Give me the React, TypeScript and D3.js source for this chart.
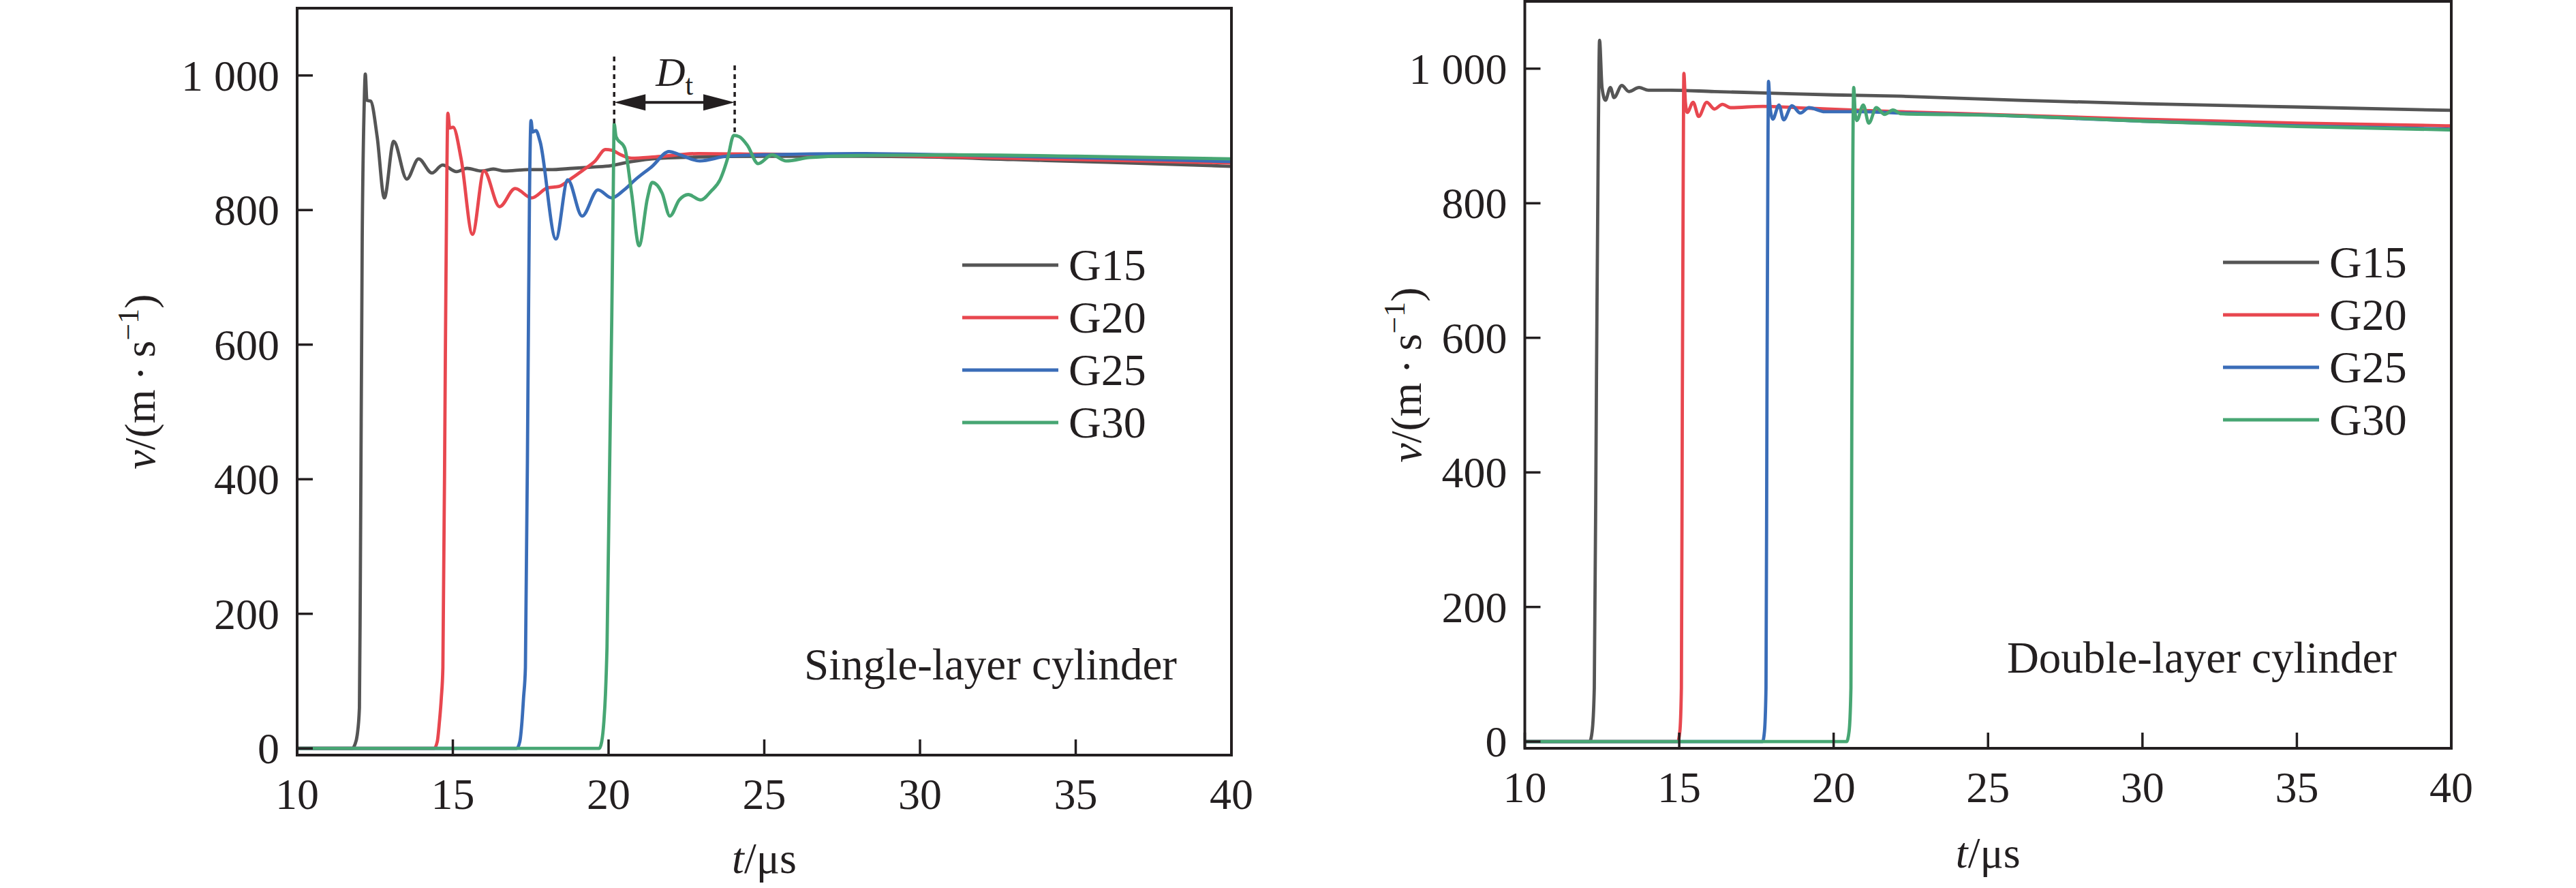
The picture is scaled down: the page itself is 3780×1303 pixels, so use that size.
import * as d3 from "d3";

const WIDTH = 3780;
const HEIGHT = 1303;

const xTicks = [10, 15, 20, 25, 30, 35, 40];
const yTicks = [0, 200, 400, 600, 800, 1000];
const yTickLabels = ["0", "200", "400", "600", "800", "1 000"];
const seriesNames = ["G15", "G20", "G25", "G30"];
const seriesColors = ["#555555", "#e8474f", "#3a6db8", "#47a673"];

type Pt = [number, number];

// single-layer cylinder, t (µs) vs v (m/s)
const singleG15: Pt[] = [
  [10, 0], [11.78, 0], [11.85, 5], [11.93, 20], [12.0, 60], [12.03, 250], [12.09, 757], [12.15, 950],
  [12.19, 1002], [12.24, 963], [12.36, 962], [12.57, 909], [12.8, 818], [13.1, 902], [13.52, 846],
  [13.9, 876], [14.33, 855], [14.67, 867], [15.12, 857], [15.45, 862], [15.93, 858], [16.3, 861],
  [16.66, 858], [17.4, 860], [18.1, 860], [18.85, 862], [19.5, 864], [20.08, 866], [20.5, 870],
  [21.4, 876], [22.3, 878], [25, 880], [28, 880], [30, 879], [33, 875], [36, 871], [40, 865],
];
const singleG20: Pt[] = [
  [10, 0], [14.4, 0], [14.5, 10], [14.57, 40], [14.63, 75], [14.68, 120], [14.76, 585], [14.8, 815],
  [14.84, 944], [14.9, 922], [15.01, 923], [15.27, 875], [15.63, 764], [16.0, 858], [16.5, 805],
  [17.0, 832], [17.53, 818], [18.04, 833], [18.4, 835], [18.84, 848], [19.2, 860], [19.57, 873],
  [19.9, 890], [20.1, 889], [20.4, 882], [20.74, 877], [21.5, 879], [22.9, 884], [25, 883],
  [28, 882], [31, 879], [35, 875], [40, 870],
];
const singleG25: Pt[] = [
  [10, 0], [17.05, 0], [17.15, 10], [17.22, 40], [17.27, 75], [17.33, 120], [17.42, 585], [17.46, 815],
  [17.51, 933], [17.56, 916], [17.67, 918], [17.8, 902], [18.31, 757], [18.69, 845], [19.15, 791],
  [19.66, 830], [20.1, 818], [20.5, 830], [20.88, 846], [21.4, 865], [21.94, 887], [22.3, 882],
  [22.93, 873], [23.8, 880], [25, 882], [28, 884], [31, 882], [35, 878], [40, 872],
];
const singleG30: Pt[] = [
  [10, 0], [19.7, 0], [19.78, 10], [19.85, 40], [19.9, 80], [19.95, 150], [20.12, 706], [20.15, 825],
  [20.18, 928], [20.24, 909], [20.52, 892], [20.74, 825], [20.98, 747], [21.25, 818], [21.4, 841],
  [21.72, 825], [21.97, 791], [22.27, 815], [22.56, 823], [22.96, 815], [23.29, 828], [23.58, 845],
  [23.83, 878], [24.02, 911], [24.2, 909], [24.46, 896], [24.8, 869], [25.25, 882], [25.7, 873],
  [26.45, 878], [28, 881], [31, 882], [35, 880], [40, 876],
];

// double-layer cylinder
const doubleG15: Pt[] = [
  [10, 0], [12.1, 0], [12.18, 15], [12.25, 80], [12.32, 535], [12.38, 900], [12.42, 1042], [12.5, 972],
  [12.61, 953], [12.77, 972], [12.89, 957], [13.14, 975], [13.37, 966], [13.7, 972], [14.0, 968],
  [14.72, 968], [16.14, 966], [17.71, 964], [20, 961], [22.19, 959], [26, 953], [30, 948], [35, 943],
  [40, 938],
];
const doubleG20: Pt[] = [
  [10, 0], [14.95, 0], [15.02, 15], [15.07, 80], [15.1, 500], [15.13, 850], [15.15, 993], [15.2, 950],
  [15.26, 935], [15.45, 950], [15.63, 929], [15.89, 950], [16.14, 940], [16.4, 947], [16.66, 942],
  [17.71, 944], [19.29, 941], [20.86, 938], [22.19, 936], [25, 932], [30, 925], [35, 919], [40, 915],
];
const doubleG25: Pt[] = [
  [10, 0], [17.7, 0], [17.76, 15], [17.81, 80], [17.84, 500], [17.87, 850], [17.89, 981], [17.94, 944],
  [18.03, 925], [18.23, 946], [18.38, 924], [18.65, 945], [18.92, 934], [19.2, 942], [19.71, 936],
  [20.86, 936], [22.19, 934], [25, 931], [30, 922], [35, 915], [40, 910],
];
const doubleG30: Pt[] = [
  [10, 0], [20.42, 0], [20.5, 15], [20.56, 80], [20.59, 500], [20.62, 850], [20.65, 972], [20.7, 932],
  [20.75, 923], [20.96, 946], [21.14, 919], [21.38, 942], [21.65, 932], [21.92, 938.5], [22.19, 933],
  [25, 931], [30, 922], [35, 914], [40, 909],
];

// D_t annotation on the single-layer panel: [t, top v, bottom v]
const dtStart = [20.18, 1028, 928];
const dtEnd = [24.05, 1015, 911];
const dtArrowV = 960;
const dtLabelV = 985;

const INK = "#231f20";
const FONT = "'Liberation Serif', 'Times New Roman', serif";

type PanelProps = {
  series: Pt[][];
  caption: string;
  left: number;
  right: number;
  top: number;
  bottom: number;
  yLabelX: number;
  xLabelY: number;
  legendX: number;
  legendY: number;
  annotate?: boolean;
};

function Panel(p: PanelProps) {
  const x = d3.scaleLinear().domain([10, 40]).range([p.left, p.right]);
  const y = d3.scaleLinear().domain([-10, 1100]).range([p.bottom, p.top]);
  const line = d3
    .line<Pt>()
    .x((d) => x(d[0]))
    .y((d) => y(d[1]))
    .curve(d3.curveMonotoneX);
  const midY = (p.top + p.bottom) / 2;
  const midX = (p.left + p.right) / 2;
  const tick = 23;

  return (
    <g fontFamily={FONT} fill={INK}>
      {p.series.map((s, i) => (
        <path key={i} d={line(s) ?? ""} fill="none" stroke={seriesColors[i]} strokeWidth={4.8} strokeLinejoin="round" />
      ))}

      <rect x={p.left} y={p.top} width={p.right - p.left} height={p.bottom - p.top} fill="none" stroke={INK} strokeWidth={4} />

      {yTicks.map((v, i) => (
        <g key={v}>
          <line x1={p.left} x2={p.left + tick} y1={y(v)} y2={y(v)} stroke={INK} strokeWidth={3.5} />
          <text x={p.left - 26} y={y(v) + 22} fontSize={64} textAnchor="end">
            {yTickLabels[i]}
          </text>
        </g>
      ))}
      {xTicks.map((t) => (
        <g key={t}>
          <line x1={x(t)} x2={x(t)} y1={p.bottom} y2={p.bottom - tick} stroke={INK} strokeWidth={3.5} />
          <text x={x(t)} y={p.bottom + 79} fontSize={64} textAnchor="middle">
            {t}
          </text>
        </g>
      ))}

      <text transform={`translate(${p.yLabelX},${midY}) rotate(-90)`} fontSize={64} textAnchor="middle">
        <tspan fontStyle="italic">v</tspan>
        <tspan>{"/(m\u2009·\u2009s"}</tspan>
        <tspan dy={-24} fontSize={44}>
          {"\u22121"}
        </tspan>
        <tspan dy={24}>)</tspan>
      </text>
      <text x={midX} y={p.xLabelY} fontSize={64} textAnchor="middle">
        <tspan fontStyle="italic">t</tspan>
        <tspan>/μs</tspan>
      </text>

      {seriesNames.map((name, i) => {
        const ly = p.legendY + i * 77;
        return (
          <g key={name}>
            <line x1={p.legendX} x2={p.legendX + 141} y1={ly} y2={ly} stroke={seriesColors[i]} strokeWidth={4.8} />
            <text x={p.legendX + 156} y={ly + 22} fontSize={66}>
              {name}
            </text>
          </g>
        );
      })}

      <text x={p.right - 80} y={p.top + 985} fontSize={65} textAnchor="end">
        {p.caption}
      </text>

      {p.annotate && (
        <g>
          {[dtStart, dtEnd].map((d, i) => (
            <line key={i} x1={x(d[0])} x2={x(d[0])} y1={y(d[1])} y2={y(d[2])} stroke={INK} strokeWidth={3.5} strokeDasharray="7 6" />
          ))}
          <line x1={x(dtStart[0]) + 30} x2={x(dtEnd[0]) - 30} y1={y(dtArrowV)} y2={y(dtArrowV)} stroke={INK} strokeWidth={4} />
          <path
            d={`M${x(dtStart[0])},${y(dtArrowV)} L${x(dtStart[0]) + 46},${y(dtArrowV) - 12} L${x(dtStart[0]) + 46},${y(dtArrowV) + 12} Z`}
            fill={INK}
          />
          <path
            d={`M${x(dtEnd[0])},${y(dtArrowV)} L${x(dtEnd[0]) - 46},${y(dtArrowV) - 12} L${x(dtEnd[0]) - 46},${y(dtArrowV) + 12} Z`}
            fill={INK}
          />
          <text x={(x(dtStart[0]) + x(dtEnd[0])) / 2} y={y(dtLabelV)} fontSize={60} textAnchor="middle">
            <tspan fontStyle="italic">D</tspan>
            <tspan fontSize={42} dy={13}>
              t
            </tspan>
          </text>
        </g>
      )}
    </g>
  );
}

export default function App() {
  return (
    <svg
      width={WIDTH}
      height={HEIGHT}
      viewBox={`0 0 ${WIDTH} ${HEIGHT}`}
      style={{ position: "absolute", left: 0, top: 0, background: "#fff" }}
    >
      <Panel
        series={[singleG15, singleG20, singleG25, singleG30]}
        caption="Single-layer cylinder"
        left={436}
        right={1807}
        top={12}
        bottom={1108}
        yLabelX={227}
        xLabelY={1281}
        legendX={1412}
        legendY={389}
        annotate
      />
      <Panel
        series={[doubleG15, doubleG20, doubleG25, doubleG30]}
        caption="Double-layer cylinder"
        left={2237.5}
        right={3597}
        top={2}
        bottom={1098}
        yLabelX={2085}
        xLabelY={1273}
        legendX={3262}
        legendY={385}
      />
    </svg>
  );
}
